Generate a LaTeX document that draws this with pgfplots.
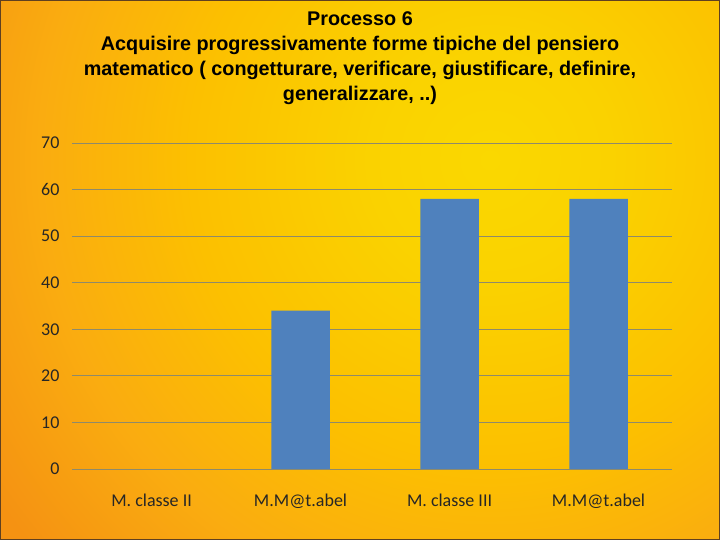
\documentclass[border=0pt]{standalone}
\usepackage{pgfplots}
\pgfplotsset{compat=1.18}
\usepackage{fontspec}
\setmainfont{Carlito}
\newfontfamily\titlefont{Liberation Sans}
\definecolor{bgyel}{HTML}{FAD800}
\definecolor{bgyel2}{HTML}{FAD200}
\definecolor{bgmid}{HTML}{FCC000}
\definecolor{bgmid2}{HTML}{FAAC10}
\definecolor{bgor}{HTML}{F59212}
\definecolor{barblue}{HTML}{4F81BD}
\definecolor{gridc}{HTML}{8E8A6A}
\definecolor{txt}{HTML}{262626}
\pgfdeclareradialshading{bgshade}{\pgfpoint{0bp}{0bp}}{color(0bp)=(bgyel); color(4.3bp)=(bgyel2); color(10.7bp)=(bgmid); color(16.1bp)=(bgmid2); color(21.4bp)=(bgor); color(50bp)=(bgor)}
\begin{document}
\begin{tikzpicture}[x=1pt,y=1pt]
\begin{scope}
\clip (0,0) rectangle (720,540);
\shade[shading=bgshade] (490,380) circle (700);
\end{scope}
\draw[color=black!50!brown, line width=1pt] (0.5,0.5) rectangle (719.5,539.5);
\node[align=center, font={\titlefont\bfseries\fontsize{19.8}{25}\selectfont}, anchor=center] at (360,482) {Processo 6\\Acquisire progressivamente forme tipiche del pensiero\\matematico ( congetturare, verificare, giustificare, definire,\\generalizzare, ..)};
\begin{axis}[
  at={(72pt,71pt)}, anchor=south west,
  scale only axis, width=600pt, height=326pt,
  xmin=-0.534, xmax=3.493, ymin=0, ymax=70,
  ytick={0,10,...,70},
  xtick={0,1,2,3},
  xticklabels={M. classe II, M.M@t.abel, M. classe III, M.M@t.abel},
  axis line style={draw=none},
  major tick length=0pt,
  ymajorgrids, grid style={gridc, line width=0.9pt},
  ticklabel style={font=\fontsize{18}{20}\selectfont, text=txt},
  /pgf/number format/assume math mode=true,
  yticklabel style={xshift=-9pt},
  xticklabel style={yshift=-21pt},
  ybar, bar width=58.5pt,
  clip=false,
]
\addplot[fill=barblue, draw=none] coordinates {(1,34) (2,58) (3,58)};
\end{axis}
\end{tikzpicture}
\end{document}
